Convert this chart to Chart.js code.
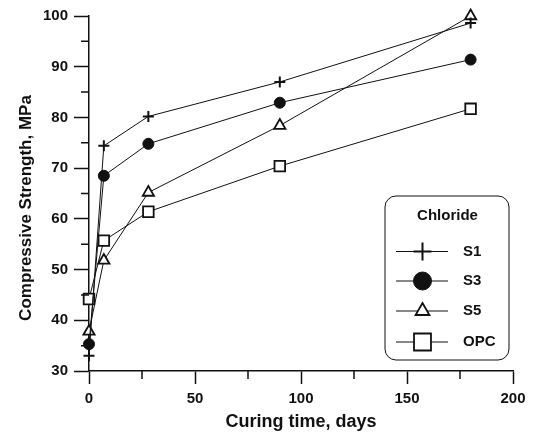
<!DOCTYPE html>
<html lang="en">
<head>
    <meta charset="UTF-8">
    <title>Compressive Strength vs Curing time</title>
    <script src="https://cdn.jsdelivr.net/npm/chart.js"></script>
    <style>
        body { margin: 0; background: #fff; }
        #wrap { width: 533px; height: 432px; position: relative; }
    </style>
</head>
<body>
<div id="wrap"><canvas id="strengthChart"></canvas></div>

<script>
    // curing time (days) and compressive strength (MPa)
    const days = [0, 7, 28, 90, 180];
    const s1 = [33.0, 74.4, 80.2, 87.0, 98.6];
    const s3 = [35.3, 68.5, 74.8, 82.9, 91.4];
    const s5 = [37.8, 51.8, 65.2, 78.4, 100.0];
    const opc = [44.2, 55.7, 61.4, 70.4, 81.7];

    const seriesNames = ['S1', 'S3', 'S5', 'OPC'];
    const legendTitle = 'Chloride';
    const xTicks = [0, 50, 100, 150, 200];
    const yTicks = [30, 40, 50, 60, 70, 80, 90, 100];

    const FONT = "'Liberation Sans', Arial, Helvetica, sans-serif";
    const INK = '#111';

    const toPoints = vals => vals.map((v, i) => ({ x: days[i], y: v }));

    const styles = [
        { pointStyle: 'cross', radius: 5.5, fill: INK, width: 2, legendRadius: 9 },
        { pointStyle: 'circle', radius: 5.5, fill: INK, width: 1, legendRadius: 9 },
        { pointStyle: 'triangle', radius: 6.5, fill: '#fff', width: 1.8, legendRadius: 8 },
        { pointStyle: 'rect', radius: 7.5, fill: '#fff', width: 1.8, legendRadius: 12 }
    ];

    const datasets = [s1, s3, s5, opc].map((vals, i) => ({
        label: seriesNames[i],
        data: toPoints(vals),
        borderColor: INK,
        borderWidth: 1,
        pointStyle: styles[i].pointStyle,
        pointRadius: styles[i].radius,
        pointBackgroundColor: styles[i].fill,
        pointBorderColor: INK,
        pointBorderWidth: styles[i].width,
        tension: 0,
        clip: false
    }));

    function drawMarker(ctx, style, r, x, y, lw, fill) {
        ctx.save();
        ctx.lineWidth = lw;
        ctx.strokeStyle = INK;
        ctx.fillStyle = fill;
        ctx.beginPath();
        if (style === 'cross') {
            ctx.moveTo(x - r, y); ctx.lineTo(x + r, y);
            ctx.moveTo(x, y - r); ctx.lineTo(x, y + r);
            ctx.stroke();
        } else if (style === 'circle') {
            ctx.arc(x, y, r, 0, Math.PI * 2);
            ctx.fill(); ctx.stroke();
        } else if (style === 'triangle') {
            ctx.moveTo(x, y - r);
            ctx.lineTo(x + r * 0.866, y + r / 2);
            ctx.lineTo(x - r * 0.866, y + r / 2);
            ctx.closePath();
            ctx.fill(); ctx.stroke();
        } else {
            const h = r * Math.SQRT1_2;
            ctx.rect(x - h, y - h, 2 * h, 2 * h);
            ctx.fill(); ctx.stroke();
        }
        ctx.restore();
    }

    // minor ticks, axis titles and the boxed legend
    const decorations = {
        id: 'decorations',
        afterDraw(chart) {
            const ctx = chart.ctx;
            const xs = chart.scales.x, ys = chart.scales.y;
            const area = chart.chartArea;
            ctx.save();
            ctx.strokeStyle = INK;
            ctx.lineWidth = 1.5;
            ctx.beginPath();
            for (let v = 25; v < 200; v += 50) {
                const px = xs.getPixelForValue(v);
                ctx.moveTo(px, area.bottom);
                ctx.lineTo(px, area.bottom + 8);
            }
            for (let v = 35; v < 100; v += 10) {
                const py = ys.getPixelForValue(v);
                ctx.moveTo(area.left, py);
                ctx.lineTo(area.left - 8, py);
            }
            ctx.stroke();

            ctx.fillStyle = INK;
            ctx.textAlign = 'center';
            ctx.textBaseline = 'alphabetic';
            ctx.font = 'bold 18px ' + FONT;
            ctx.fillText('Curing time, days', (area.left + area.right) / 2, 427);
            ctx.save();
            ctx.translate(31, 208);
            ctx.rotate(-Math.PI / 2);
            ctx.font = 'bold 17px ' + FONT;
            ctx.fillText('Compressive Strength, MPa', 0, 0);
            ctx.restore();

            // legend box
            const bx = 385, by = 196, bw = 124, bh = 164;
            ctx.lineWidth = 1;
            ctx.fillStyle = '#fff';
            ctx.beginPath();
            ctx.roundRect(bx, by, bw, bh, 11);
            ctx.fill();
            ctx.stroke();

            ctx.fillStyle = INK;
            ctx.textBaseline = 'middle';
            ctx.font = 'bold 15px ' + FONT;
            ctx.fillText(legendTitle, 447.5, 216);

            const rows = [251.5, 281, 311, 342];
            seriesNames.forEach((name, i) => {
                const y = rows[i];
                ctx.lineWidth = 1;
                ctx.strokeStyle = INK;
                ctx.beginPath();
                ctx.moveTo(396, y);
                ctx.lineTo(448, y);
                ctx.stroke();
                drawMarker(ctx, styles[i].pointStyle, styles[i].legendRadius, 422.5, y,
                    styles[i].width, styles[i].fill);
                ctx.fillStyle = INK;
                ctx.textAlign = 'left';
                ctx.fillText(name, 463, y);
            });
            ctx.restore();
        }
    };

    new Chart(document.getElementById('strengthChart'), {
        type: 'line',
        data: { datasets: datasets },
        options: {
            responsive: true,
            maintainAspectRatio: false,
            animation: false,
            layout: { padding: { left: 0, right: 20, top: 16, bottom: 0 } },
            plugins: {
                legend: { display: false },
                tooltip: { enabled: false }
            },
            scales: {
                x: {
                    type: 'linear',
                    min: 0,
                    max: 200,
                    afterFit: s => { s.height = 61; },
                    afterBuildTicks: s => { s.ticks = xTicks.map(v => ({ value: v })); },
                    grid: {
                        drawOnChartArea: false,
                        drawTicks: true,
                        tickLength: 13,
                        tickColor: INK,
                        tickWidth: 1.5
                    },
                    border: { display: true, color: INK, width: 1.5 },
                    ticks: {
                        color: INK,
                        padding: 6,
                        maxRotation: 0,
                        font: { family: FONT, size: 15, weight: 'bold' }
                    }
                },
                y: {
                    min: 30,
                    max: 100,
                    afterFit: s => { s.width = 89; },
                    afterBuildTicks: s => { s.ticks = yTicks.map(v => ({ value: v })); },
                    grid: {
                        drawOnChartArea: false,
                        drawTicks: true,
                        tickLength: 15,
                        tickColor: INK,
                        tickWidth: 1.5
                    },
                    border: { display: true, color: INK, width: 1.5 },
                    ticks: {
                        color: INK,
                        padding: 6,
                        font: { family: FONT, size: 15, weight: 'bold' }
                    }
                }
            }
        },
        plugins: [decorations]
    });
</script>
</body>
</html>
